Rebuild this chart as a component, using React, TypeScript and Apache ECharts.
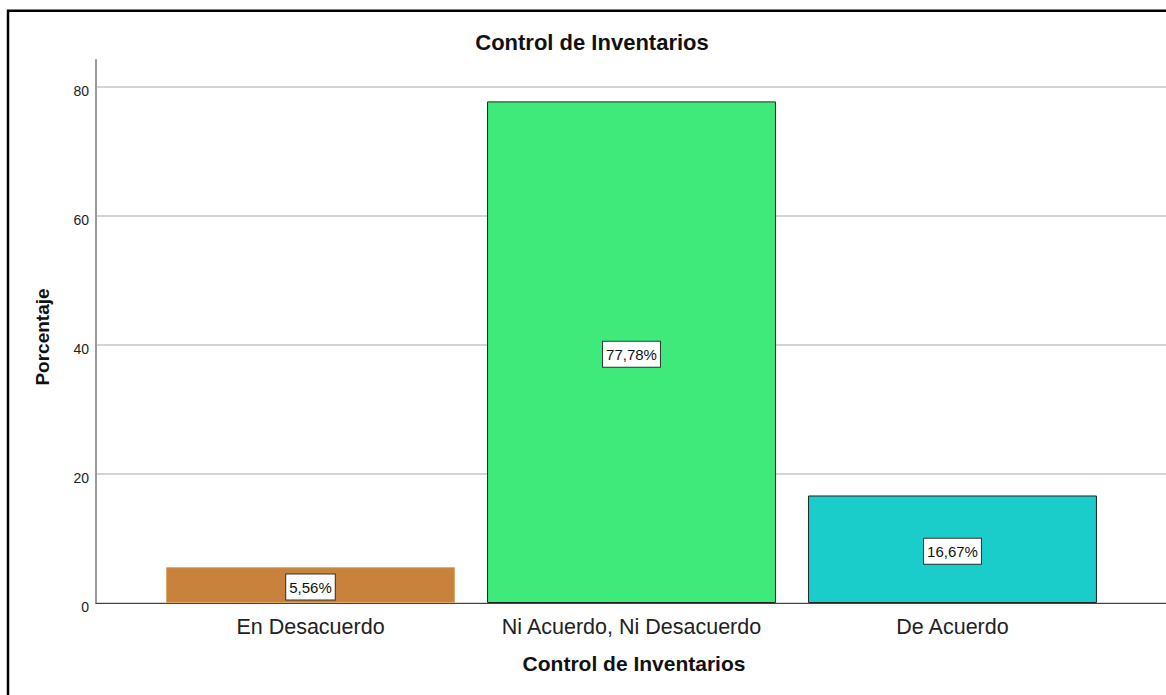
import React, { useEffect, useRef } from "react";
import * as echarts from "echarts";

const categories = ["En Desacuerdo", "Ni Acuerdo, Ni Desacuerdo", "De Acuerdo"];
const percentages = [5.56, 77.78, 16.67];
const barColors = ["#c8823b", "#3eeb7a", "#1acdcb"];
const barBorders = ["#dba56b", "#222222", "#222222"];
const yTicks = [0, 20, 40, 60, 80];

const FONT = '"Liberation Sans", Arial, sans-serif';

export default function App() {
  const ref = useRef<HTMLDivElement>(null);
  useEffect(() => {
    document.body.style.margin = "0";
    const chart = echarts.init(ref.current!, null, { renderer: "svg" });
    const yMax = 84.2;
    const option: any = {
      animation: false,
      backgroundColor: "#ffffff",
      textStyle: { fontFamily: FONT },
      grid: [
        { left: 96, right: 0, top: 60, bottom: 92 },
        { left: 150, right: 53, top: 60, bottom: 92 },
      ],
      xAxis: [
        {
          gridIndex: 0,
          type: "value",
          min: 0,
          max: 1,
          axisLine: { show: true, onZero: false, lineStyle: { color: "#444444", width: 1 } },
          axisTick: { show: false },
          axisLabel: { show: false },
          splitLine: { show: false },
        },
        {
          gridIndex: 1,
          type: "category",
          data: categories,
          axisLine: { show: false },
          axisTick: { show: false },
          axisLabel: {
            fontFamily: FONT,
            fontSize: 21.5,
            color: "#222222",
            margin: 13,
            interval: 0,
          },
        },
      ],
      yAxis: [
        {
          gridIndex: 0,
          type: "value",
          min: 0,
          max: yMax,
          interval: 20,
          axisLine: { show: true, lineStyle: { color: "#9a9a9a", width: 2 } },
          axisTick: { show: false },
          axisLabel: {
            fontFamily: FONT,
            fontSize: 14,
            color: "#222222",
            margin: 7,
            verticalAlign: "top",
            lineHeight: 7,
            formatter: (v: number) => (yTicks.includes(v) ? String(v) : ""),
          },
          splitLine: {
            show: true,
            lineStyle: {
              color: ["#c4c4c4", "#c4c4c4", "#c4c4c4", "#c4c4c4", "#c4c4c4", "rgba(0,0,0,0)"],
              width: 1.5,
            },
          },
        },
        {
          gridIndex: 1,
          type: "value",
          min: 0,
          max: yMax,
          show: false,
          splitLine: { show: false },
        },
      ],
      series: [
        {
          type: "bar",
          xAxisIndex: 1,
          yAxisIndex: 1,
          barWidth: "90%",
          data: percentages.map((v, i) => ({
            value: v,
            itemStyle: { color: barColors[i], borderColor: barBorders[i], borderWidth: 1 },
          })),
          label: {
            show: true,
            position: "inside",
            offset: [0, 2],
            formatter: (p: any) => p.value.toFixed(2).replace(".", ",") + "%",
            fontFamily: FONT,
            fontSize: 15,
            lineHeight: 17,
            color: "#111111",
            backgroundColor: "#ffffff",
            borderColor: "#333333",
            borderWidth: 1,
            padding: [4, 3, 4, 3],
          },
        },
      ],
      graphic: [
        {
          type: "rect",
          shape: { x: 8, y: 10.7, width: 1400, height: 1000 },
          style: { fill: "none", stroke: "#000000", lineWidth: 2.5 },
          silent: true,
        },
        {
          type: "text",
          x: 592,
          y: 42,
          style: {
            text: "Control de Inventarios",
            fontFamily: FONT,
            fontSize: 22,
            fontWeight: "bold",
            fill: "#111111",
            align: "center",
            verticalAlign: "middle",
          },
        },
        {
          type: "text",
          x: 634,
          y: 663,
          style: {
            text: "Control de Inventarios",
            fontFamily: FONT,
            fontSize: 21,
            fontWeight: "bold",
            fill: "#111111",
            align: "center",
            verticalAlign: "middle",
          },
        },
        {
          type: "text",
          x: 42,
          y: 337,
          rotation: Math.PI / 2,
          style: {
            text: "Porcentaje",
            fontFamily: FONT,
            fontSize: 19,
            fontWeight: "bold",
            fill: "#111111",
            align: "center",
            verticalAlign: "middle",
          },
        },
      ],
    };
    chart.setOption(option);
    return () => chart.dispose();
  }, []);
  return (
    <div
      ref={ref}
      style={{ position: "absolute", left: 0, top: 0, width: 1166, height: 695 }}
    />
  );
}
